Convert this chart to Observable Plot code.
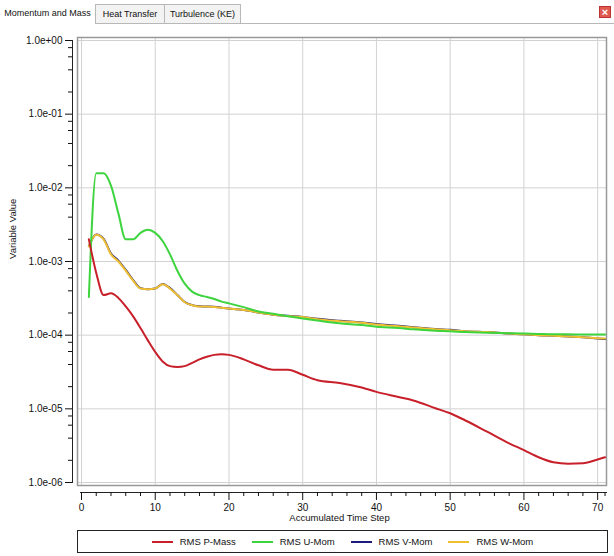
<!DOCTYPE html>
<html><head><meta charset="utf-8">
<script src="https://cdn.jsdelivr.net/npm/d3@7"></script>
<script src="https://cdn.jsdelivr.net/npm/@observablehq/plot@0.6"></script>
<style>
body{margin:0;background:#fff;width:614px;height:556px;overflow:hidden;font-family:"Liberation Sans",Arial,sans-serif;color:#111;}
#tabs{position:relative;height:24px;}
.tab{position:absolute;top:4px;height:19px;font-size:9px;line-height:19px;text-align:center;box-sizing:border-box;}
#t1{left:0;width:95px;background:#fff;}
#t2{left:95px;width:70px;background:#f3f3f3;border:1px solid #b8b8b8;border-bottom:none;}
#t3{left:165px;width:76px;background:#f3f3f3;border:1px solid #b8b8b8;border-bottom:none;border-left:none;}
#tline{position:absolute;left:95px;right:0;top:23px;height:1px;background:#b8b8b8;}
#close{position:absolute;left:599px;top:6px;width:12px;height:12px;background:#e05a4f;border:1px solid #b33;box-sizing:border-box;color:#fff;font-size:11px;line-height:10px;text-align:center;font-weight:bold;}
#chart{height:503px;}
#legend{margin:3px 0 0 77px;width:531px;height:23px;border:1px solid #222;box-sizing:border-box;display:flex;justify-content:center;align-items:center;gap:16px;font-size:9.5px;}
.item{display:flex;align-items:center;}
.sw{display:inline-block;width:21px;height:2px;margin-right:7px;}
</style></head><body>
<div id="tabs">
  <div class="tab" id="t1">Momentum and Mass</div>
  <div class="tab" id="t2">Heat Transfer</div>
  <div class="tab" id="t3">Turbulence (KE)</div>
  <div id="tline"></div>
  <div id="close">×</div>
</div>
<div id="chart"></div>
<div id="legend"></div>
<script>
const steps = [1,2,3,4,5,6,7,8,9,10,11,12,13,14,15,16,17,18,19,20,22,24,26,28,30,32,35,38,40,43,45,48,50,52,55,58,60,62,64,66,68,70,71];
const pMass = [2.0e-3,7e-4,3.5e-4,3.7e-4,3.2e-4,2.45e-4,1.8e-4,1.25e-4,8.5e-5,5.9e-5,
  4.4e-5,3.8e-5,3.7e-5,3.8e-5,4.2e-5,4.7e-5,5.1e-5,5.4e-5,5.5e-5,5.4e-5,
  4.7e-5,3.9e-5,3.4e-5,3.4e-5,2.9e-5,2.45e-5,
  2.25e-5,1.95e-5,1.7e-5,
  1.45e-5,1.3e-5,1.02e-5,8.7e-6,
  7e-6,4.9e-6,3.4e-6,2.75e-6,
  2.2e-6,1.88e-6,1.8e-6,1.82e-6,
  2.05e-6,2.2e-6];
const uMom = [3.3e-4,1.58e-2,1.58e-2,1.07e-2,4.5e-3,2.0e-3,2.0e-3,2.45e-3,2.7e-3,2.45e-3,
  1.9e-3,1.25e-3,7.5e-4,5e-4,3.9e-4,3.5e-4,3.3e-4,3.1e-4,2.85e-4,2.7e-4,
  2.4e-4,2.1e-4,1.95e-4,1.8e-4,1.68e-4,1.58e-4,
  1.45e-4,1.37e-4,1.3e-4,
  1.25e-4,1.2e-4,1.15e-4,1.13e-4,
  1.1e-4,1.08e-4,1.06e-4,1.05e-4,
  1.04e-4,1.03e-4,1.03e-4,1.02e-4,
  1.02e-4,1.02e-4];
const vMom = [1.62e-3,2.32e-3,2.03e-3,1.28e-3,1.03e-3,7.7e-4,5.6e-4,4.35e-4,4.2e-4,4.3e-4,
  4.95e-4,4.35e-4,3.52e-4,2.82e-4,2.56e-4,2.46e-4,2.45e-4,2.43e-4,2.35e-4,2.3e-4,
  2.2e-4,2.03e-4,1.9e-4,1.83e-4,1.77e-4,1.67e-4,
  1.57e-4,1.49e-4,1.42e-4,
  1.34e-4,1.28e-4,1.21e-4,1.18e-4,
  1.13e-4,1.1e-4,1.05e-4,1.03e-4,
  1.0e-4,9.8e-5,9.6e-5,9.4e-5,
  9.0e-5,8.9e-5];
const wMom = [1.6e-3,2.3e-3,2.0e-3,1.25e-3,1.0e-3,7.5e-4,5.5e-4,4.3e-4,4.2e-4,4.3e-4,
  4.9e-4,4.3e-4,3.5e-4,2.8e-4,2.55e-4,2.45e-4,2.45e-4,2.42e-4,2.35e-4,2.3e-4,
  2.2e-4,2.03e-4,1.9e-4,1.82e-4,1.76e-4,1.65e-4,
  1.55e-4,1.47e-4,1.4e-4,
  1.32e-4,1.27e-4,1.2e-4,1.17e-4,
  1.13e-4,1.1e-4,1.05e-4,1.03e-4,
  1.0e-4,9.8e-5,9.6e-5,9.4e-5,
  9.1e-5,9.0e-5];

const seriesNames = ["RMS P-Mass","RMS U-Mom","RMS V-Mom","RMS W-Mom"];
const seriesColors = ["#c8202a","#3ed43e","#1c1c7c","#f0c030"];
const drawOrder = [["RMS V-Mom", vMom],["RMS W-Mom", wMom],["RMS U-Mom", uMom],["RMS P-Mass", pMass]];

const xMajorTicks = [0,10,20,30,40,50,60,70];
const xMinorTicks = [2,4,6,8,12,14,16,18,22,24,26,28,32,34,36,38,42,44,46,48,52,54,56,58,62,64,66,68,71];
const yMajorTicks = [1,1e-1,1e-2,1e-3,1e-4,1e-5,1e-6];
const yMinorTicks = yMajorTicks.slice(1).flatMap(d => [2*d,4*d,6*d,8*d]);

const rows = drawOrder.flatMap(([name, vals]) => steps.map((s, i) => ({series: name, step: s, value: vals[i]})));

const fmt = v => {
  const e = Math.round(Math.log10(v));
  return "1.0e" + (e >= 0 ? "+" : "-") + String(Math.abs(e)).padStart(2, "0");
};

const chart = Plot.plot({
  width: 614,
  height: 503,
  marginTop: 13,
  marginBottom: 35,
  marginLeft: 72,
  marginRight: 8,
  style: {background: "#fff", fontFamily: "Liberation Sans, Arial, sans-serif", fontSize: "10px", color: "#111"},
  x: {domain: [0, 71.2], insetLeft: 9},
  y: {type: "log", domain: [1e-6, 1], insetTop: 3, insetBottom: 10},
  color: {domain: seriesNames, range: seriesColors},
  marks: [
    Plot.ruleY(yMajorTicks, {stroke: "#d2d2d2", insetLeft: 5}),
    Plot.ruleX(xMajorTicks, {stroke: "#d2d2d2", insetBottom: 7}),
    Plot.frame({stroke: "#999", strokeWidth: 1.5, insetLeft: 5, insetBottom: 7}),
    Plot.frame({anchor: "left", stroke: "#222", insetTop: 3, insetBottom: 10}),
    Plot.frame({anchor: "bottom", stroke: "#222", insetLeft: 8}),
    Plot.axisY(yMajorTicks, {tickSize: 7, tickPadding: 3, tickFormat: fmt, label: null, fontSize: 10}),
    Plot.axisY(yMinorTicks, {tickSize: 4, tickFormat: () => "", label: null}),
    Plot.axisX(xMajorTicks, {tickSize: 8, tickPadding: 3, label: null, fontSize: 10}),
    Plot.axisX(xMinorTicks, {tickSize: 4, tickFormat: () => "", label: null}),
    Plot.text(["Accumulated Time Step"], {frameAnchor: "bottom", dy: 28, fontSize: 9.5, fill: "#111"}),
    Plot.text(["Variable Value"], {frameAnchor: "left", rotate: -90, dx: -60, dy: -6, fontSize: 9.5, fill: "#111"}),
    Plot.lineY(rows, {x: "step", y: "value", z: "series", stroke: "series", strokeWidth: 2, curve: "monotone-x"})
  ]
});
document.getElementById("chart").appendChild(chart);

const legend = document.getElementById("legend");
seriesNames.forEach((name, i) => {
  const item = document.createElement("div");
  item.className = "item";
  const sw = document.createElement("span");
  sw.className = "sw";
  sw.style.background = seriesColors[i];
  const label = document.createElement("span");
  label.textContent = name;
  item.appendChild(sw);
  item.appendChild(label);
  legend.appendChild(item);
});
</script>
</body></html>
